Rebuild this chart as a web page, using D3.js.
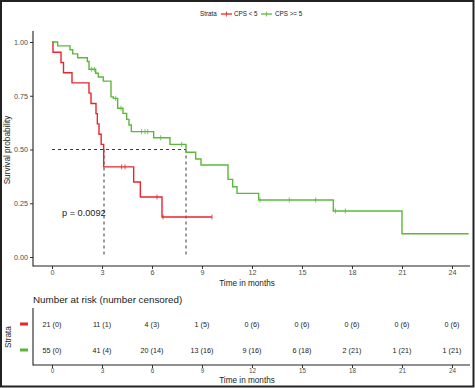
<!DOCTYPE html>
<html><head><meta charset="utf-8">
<script src="https://cdn.jsdelivr.net/npm/d3@7/dist/d3.min.js"></script>
<style>body{margin:0;background:#fff}svg{display:block;font-family:"Liberation Sans",Arial,sans-serif}</style>
</head><body>
<script>
// ---- data ----
const strata = ["CPS < 5", "CPS >= 5"];
const colors = ["#E8262B", "#5CB83A"];
// red (CPS < 5) step curve: event times and survival after
const redTimes = [0, 0.06, 0.54, 0.69, 1.2, 2.22, 2.34, 2.64, 2.72, 2.82, 2.95, 3.1, 4.9, 5.3, 6.6, 9.6];
const redSurv  = [1, 0.952, 0.905, 0.857, 0.810, 0.762, 0.714, 0.667, 0.619, 0.571, 0.524, 0.419, 0.349, 0.279, 0.186, 0.186];
const redCensor = [4.18, 4.38, 6.3, 6.66, 9.6];
// green (CPS >= 5)
const greenTimes = [0, 0.34, 1.08, 1.24, 1.54, 2.12, 2.22, 2.62, 2.78, 3.08, 3.54, 3.68, 3.94, 4.26, 4.48, 4.62, 4.76, 6.1, 7.08, 8.04, 8.62, 8.94, 10.56, 10.84, 11.1, 12.4, 16.88, 21.0, 25.0];
const greenSurv  = [1, 0.982, 0.964, 0.945, 0.927, 0.909, 0.873, 0.855, 0.837, 0.818, 0.745, 0.738, 0.692, 0.668, 0.640, 0.614, 0.583, 0.555, 0.524, 0.487, 0.456, 0.428, 0.361, 0.327, 0.296, 0.265, 0.214, 0.108, 0.108];
const greenCensor = [2.38, 2.54, 3.82, 4.14, 5.38, 5.58, 5.74, 6.52, 7.78, 12.48, 14.24, 15.82, 17.0, 17.6];
const medians = [3.12, 8.04];
const pText = "p = 0.0092";
const xTicks = [0, 3, 6, 9, 12, 15, 18, 21, 24];
const yTicks = [0, 0.25, 0.5, 0.75, 1];
const riskRed   = ["21 (0)", "11 (1)", "4 (3)", "1 (5)", "0 (6)", "0 (6)", "0 (6)", "0 (6)", "0 (6)"];
const riskGreen = ["55 (0)", "41 (4)", "20 (14)", "13 (16)", "9 (16)", "6 (18)", "2 (21)", "1 (21)", "1 (21)"];

const W = 475, H = 388;
const svg = d3.select("body").append("svg").attr("width", W).attr("height", H);
svg.append("rect").attr("x",1).attr("y",1).attr("width",W-2.5).attr("height",H-2.5)
  .attr("fill","#fff").attr("stroke","#222").attr("stroke-width",2);

const x = d3.scaleLinear().domain([0, 24]).range([52, 452]);
const y = d3.scaleLinear().domain([0, 1]).range([257, 42]);
const panelL = 33, panelR = 470, panelT = 31, panelB = 266;

// axes
const gy = svg.append("g").attr("transform", `translate(${panelL},0)`)
  .call(d3.axisLeft(y).tickValues(yTicks).tickFormat(d3.format(".2f")).tickSize(3).tickSizeOuter(0));
gy.select(".domain").remove();
svg.append("line").attr("x1",panelL).attr("x2",panelL).attr("y1",panelT).attr("y2",panelB+0.5).attr("stroke","#222").attr("stroke-width",1.1);
const gx = svg.append("g").attr("transform", `translate(0,${panelB})`)
  .call(d3.axisBottom(x).tickValues(xTicks).tickSize(3).tickSizeOuter(0));
gx.select(".domain").remove();
svg.append("line").attr("x1",panelL).attr("x2",panelR).attr("y1",panelB).attr("y2",panelB).attr("stroke","#222").attr("stroke-width",1.1);
[gx, gy].forEach(g => {
  g.selectAll(".tick line").attr("stroke","#333");
  g.selectAll(".tick text").attr("fill","#4d4d4d").attr("font-size",7.2).attr("font-family","Liberation Sans, Arial");
});
gx.selectAll(".tick text").attr("dy","0.71em").attr("y",4);
gy.selectAll(".tick text").attr("x",-5);

svg.append("text").attr("x",247).attr("y",286).attr("text-anchor","middle").attr("font-size",8.2).attr("fill","#222").text("Time in months");
svg.append("text").attr("transform",`translate(10,150) rotate(-90)`).attr("text-anchor","middle").attr("font-size",8.2).attr("fill","#222").text("Survival probability");

// median lines
const dash = "3,3";
svg.append("line").attr("x1",x(0)).attr("x2",x(d3.max(medians))).attr("y1",y(0.5)).attr("y2",y(0.5))
  .attr("stroke","#222").attr("stroke-dasharray",dash).attr("stroke-width",0.9);
medians.forEach(m => svg.append("line").attr("x1",x(m)).attr("x2",x(m)).attr("y1",y(0.5)).attr("y2",y(0))
  .attr("stroke","#222").attr("stroke-dasharray",dash).attr("stroke-width",0.9));

// curves
const step = d3.line().x(d=>x(d[0])).y(d=>y(d[1])).curve(d3.curveStepAfter);
function survAt(times, surv, t){ let s = 1; for (let i=0;i<times.length;i++){ if (times[i] <= t) s = surv[i]; } return s; }
function drawCurve(times, surv, cens, col){
  const pts = times.map((t,i)=>[t, surv[i]]);
  svg.append("path").attr("d", step(pts)).attr("fill","none").attr("stroke",col).attr("stroke-width",1.4);
  cens.forEach(c => {
    const cx = x(c), cy = y(survAt(times, surv, c));
    svg.append("line").attr("x1",cx).attr("x2",cx).attr("y1",cy-2.5).attr("y2",cy+2.5).attr("stroke",col).attr("stroke-width",0.8);
  });
}
drawCurve(redTimes, redSurv, redCensor, colors[0]);
drawCurve(greenTimes, greenSurv, greenCensor, colors[1]);

svg.append("text").attr("x",62).attr("y",216).attr("font-size",9.2).attr("fill","#222").text(pText);

// legend
const lg = svg.append("g").attr("font-size",6.3).attr("fill","#222");
lg.append("text").attr("x",200).attr("y",16).text("Strata");
[[221, 234], [261, 275]].forEach((p, i) => {
  lg.append("line").attr("x1",p[0]).attr("x2",p[0]+11).attr("y1",14).attr("y2",14).attr("stroke",colors[i]).attr("stroke-width",1.3);
  lg.append("line").attr("x1",p[0]+5.5).attr("x2",p[0]+5.5).attr("y1",11.5).attr("y2",16.5).attr("stroke",colors[i]).attr("stroke-width",0.8);
  lg.append("text").attr("x",p[1]).attr("y",16).text(strata[i]);
});

// risk table
svg.append("text").attr("x",33).attr("y",303).attr("font-size",9.8).attr("fill","#222").text("Number at risk (number censored)");
const tT = 308, tB = 365;
svg.append("line").attr("x1",panelL).attr("x2",panelL).attr("y1",tT).attr("y2",tB+0.5).attr("stroke","#222").attr("stroke-width",1.1);
const gx2 = svg.append("g").attr("transform",`translate(0,${tB})`)
  .call(d3.axisBottom(x).tickValues(xTicks).tickSize(3).tickSizeOuter(0));
gx2.select(".domain").remove();
svg.append("line").attr("x1",panelL).attr("x2",panelR).attr("y1",tB).attr("y2",tB).attr("stroke","#222").attr("stroke-width",1.1);
gx2.selectAll(".tick line").attr("stroke","#333");
gx2.selectAll(".tick text").attr("fill","#4d4d4d").attr("font-size",6.3).attr("y",3.5).attr("dy","0.71em");
svg.append("text").attr("x",247).attr("y",382.5).attr("text-anchor","middle").attr("font-size",8.2).attr("fill","#222").text("Time in months");
svg.append("text").attr("transform",`translate(11,337) rotate(-90)`).attr("text-anchor","middle").attr("font-size",8.2).attr("fill","#222").text("Strata");
const rowY = [324, 350];
[riskRed, riskGreen].forEach((row, i) => {
  svg.append("rect").attr("x",20).attr("y",rowY[i]-1.5).attr("width",8).attr("height",3).attr("fill",colors[i]);
  row.forEach((txt, j) => svg.append("text").attr("x",x(xTicks[j])).attr("y",rowY[i]+2.5)
    .attr("text-anchor","middle").attr("font-size",7.2).attr("fill","#222").text(txt));
});
</script>
</body></html>
